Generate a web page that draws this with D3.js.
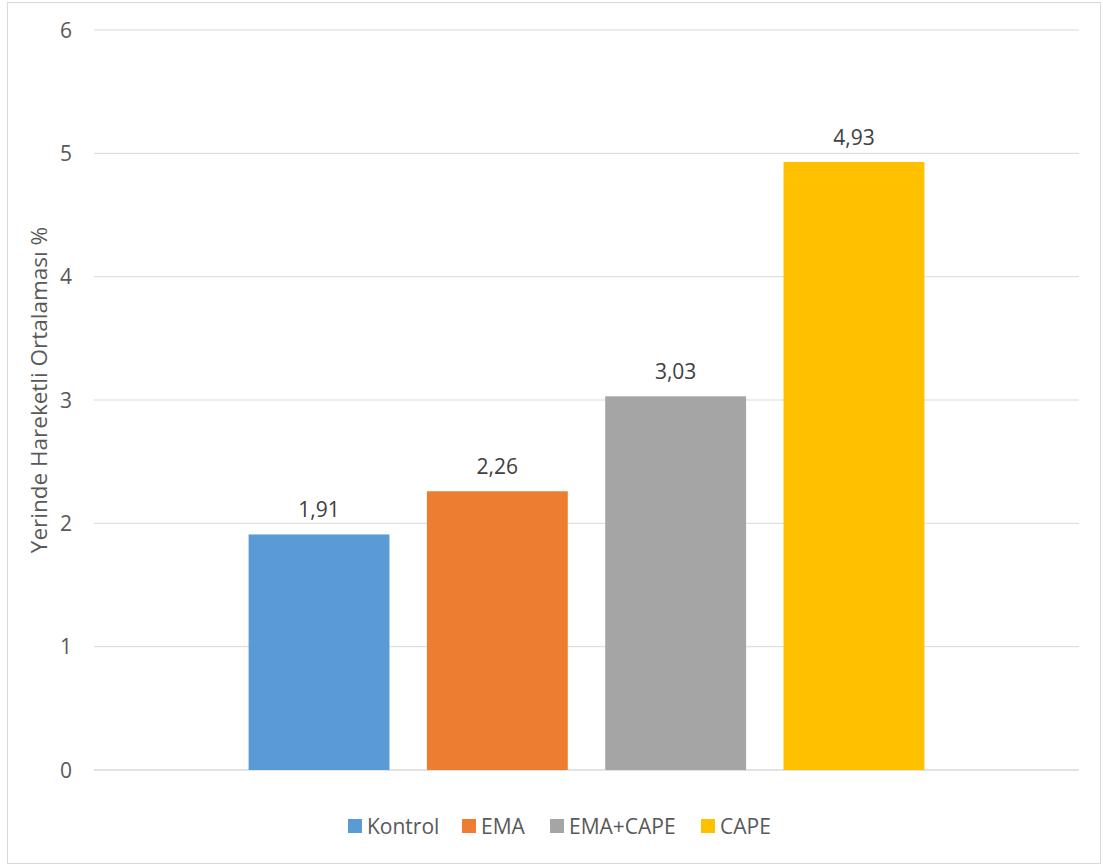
<!DOCTYPE html>
<html>
<head>
<meta charset="utf-8">
<script src="https://cdn.jsdelivr.net/npm/d3@7"></script>
<style>
  body { margin: 0; background: #fff; }
  svg { display: block; font-family: "Open Sans", sans-serif; }
</style>
</head>
<body>
<svg width="1103" height="866"></svg>
<script>
// data
const groups = ['Kontrol', 'EMA', 'EMA+CAPE', 'CAPE'];
const values = [1.91, 2.26, 3.03, 4.93];
const colors = ['#5b9bd5', '#ed7d31', '#a5a5a5', '#ffc000'];
const yTicks = [0, 1, 2, 3, 4, 5, 6];

const svg = d3.select('svg');
const width = +svg.attr('width');
const height = +svg.attr('height');

// outer border
svg.append('rect')
    .attr('x', 7.5).attr('y', 2.5)
    .attr('width', width - 10).attr('height', height - 5)
    .attr('fill', '#fff')
    .attr('stroke', '#d9d9d9');

const plotLeft = 94, plotRight = 1079, plotTop = 30, plotBottom = 770;

const x = d3.scaleBand()
    .domain(groups)
    .range([plotLeft, plotRight])
    .paddingInner(0.21)
    .paddingOuter(0.867);

const y = d3.scaleLinear()
    .domain([0, 6])
    .range([plotBottom, plotTop]);

const g = svg.append('g');

// gridlines
g.selectAll('.grid')
    .data(yTicks)
    .join('line')
    .attr('x1', plotLeft).attr('x2', plotRight)
    .attr('y1', d => y(d)).attr('y2', d => y(d))
    .attr('stroke', '#d9d9d9')
    .attr('stroke-width', d => d === 0 ? 1.6 : 1);

// y tick labels
g.selectAll('.tick')
    .data(yTicks)
    .join('text')
    .attr('x', 72)
    .attr('y', d => y(d))
    .attr('dy', '0.36em')
    .attr('text-anchor', 'end')
    .attr('font-size', 21)
    .attr('fill', '#595959')
    .text(d => d);

// y axis title
svg.append('text')
    .attr('transform', `translate(47, 390) rotate(-90)`)
    .attr('text-anchor', 'middle')
    .attr('font-size', 22.5)
    .attr('fill', '#595959')
    .text('Yerinde Hareketli Ortalaması %');

// bars
g.selectAll('.bar')
    .data(values)
    .join('rect')
    .attr('x', (d, i) => x(groups[i]))
    .attr('y', d => y(d))
    .attr('width', x.bandwidth())
    .attr('height', d => y(0) - y(d))
    .attr('fill', (d, i) => colors[i]);

// value labels
g.selectAll('.lbl')
    .data(values)
    .join('text')
    .attr('x', (d, i) => x(groups[i]) + x.bandwidth() / 2)
    .attr('y', d => y(d) - 17)
    .attr('text-anchor', 'middle')
    .attr('font-size', 21)
    .attr('fill', '#404040')
    .text(d => d.toFixed(2).replace('.', ','));

// legend
const legendX = [348, 462, 550, 701];
const lg = svg.append('g');
groups.forEach((name, i) => {
  lg.append('rect')
      .attr('x', legendX[i]).attr('y', 819)
      .attr('width', 14).attr('height', 14)
      .attr('fill', colors[i]);
  lg.append('text')
      .attr('x', legendX[i] + 19)
      .attr('y', 826)
      .attr('dy', '0.36em')
      .attr('font-size', 21)
      .attr('fill', '#595959')
      .text(name);
});
</script>
</body>
</html>
